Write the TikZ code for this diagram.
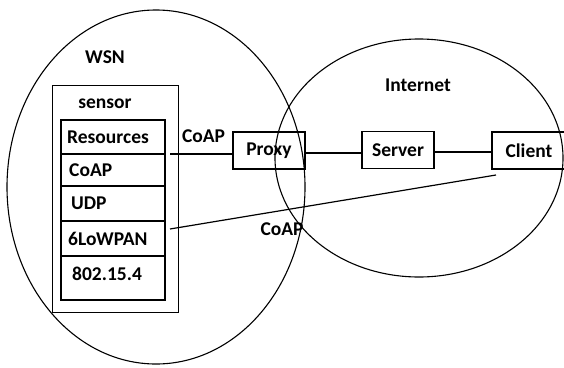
\documentclass[tikz,border=0pt]{standalone}
\usepackage{fontspec}
\setmainfont{Carlito}
\usetikzlibrary{calc}
\begin{document}
\begin{tikzpicture}[x=1pt,y=-1pt,
  every node/.style={font=\fontsize{19.5}{22}\selectfont\bfseries},
  boxline/.style={draw, line width=1.4pt},
  row/.style={boxline, minimum width=104pt, anchor=north west, inner sep=0pt, outer sep=0pt},
  rowtext/.style={anchor=west, inner sep=0pt},
  netbox/.style={boxline, minimum height=37pt, inner sep=0pt, outer sep=0pt},
  link/.style={line width=1.2pt},
  cloud/.style={line width=1.1pt}]
\useasboundingbox (0,0) rectangle (564,367);
% ellipses
\draw[cloud] (156,187) ellipse [x radius=149, y radius=177];
\draw[cloud] (419,158) ellipse [x radius=144, y radius=119];
\node (wsn) at (105,57) {WSN};
\node (inet) at (418,85) {Internet};
% sensor outer box
\node[boxline, minimum width=126pt, minimum height=227pt, anchor=north west, inner sep=0pt] (sensor) at (52,85) {};
\node (slabel) at (105,104) {sensor};
% stack rows
\node[row, minimum height=34pt] (r1) at (61,120) {};
\node[row, minimum height=32pt] (r2) at (61,154) {};
\node[row, minimum height=35pt] (r3) at (61,186) {};
\node[row, minimum height=35pt] (r4) at (61,221) {};
\node[row, minimum height=44pt] (r5) at (61,256) {};
\node[rowtext] (t1) at (67,137) {Resources};
\node[rowtext] (t2) at (69,170) {CoAP};
\node[rowtext] (t3) at (71,203.5) {UDP};
\node[rowtext] (t4) at (68,238.5) {6LoWPAN};
\node[rowtext] (t5) at (72,274) {802.15.4};
% internet boxes
\node[netbox, minimum width=72pt] (proxy) at (269,150.5) {Proxy};
\node[netbox, minimum width=72pt] (server) at (398,150) {Server};
\node[netbox, minimum width=74pt, anchor=west] (client) at (492,150.5) {Client};
% connectors
\coordinate (a) at (170,154);
\coordinate (b) at (170,229);
\draw[link] (a) -- (a -| proxy.west);
\draw[link] (proxy.east |- 0,153) -- (server.west |- 0,153);
\draw[link] (server.east |- 0,152) -- (client.west |- 0,152);
\draw[link] ($(client.south west)+(4,6)$) -- (b);
\node (coap1) at (203.5,136) {CoAP};
\node (coap2) at (282,229) {CoAP};
\end{tikzpicture}
\end{document}
